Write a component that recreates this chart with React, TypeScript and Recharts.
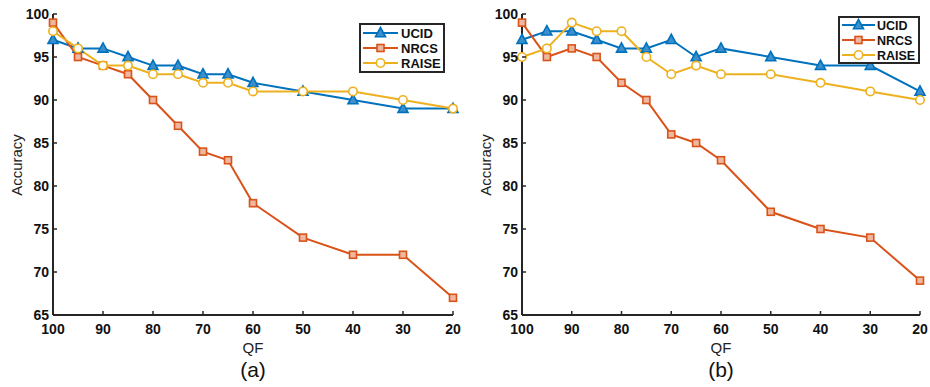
import React from "react";
import { LineChart, Line, XAxis, YAxis, Legend } from "recharts";

const qf = [100, 95, 90, 85, 80, 75, 70, 65, 60, 50, 40, 30, 20];

const ucidA = [97, 96, 96, 95, 94, 94, 93, 93, 92, 91, 90, 89, 89];
const nrcsA = [99, 95, 94, 93, 90, 87, 84, 83, 78, 74, 72, 72, 67];
const raiseA = [98, 96, 94, 94, 93, 93, 92, 92, 91, 91, 91, 90, 89];

const ucidB = [97, 98, 98, 97, 96, 96, 97, 95, 96, 95, 94, 94, 91];
const nrcsB = [99, 95, 96, 95, 92, 90, 86, 85, 83, 77, 75, 74, 69];
const raiseB = [95, 96, 99, 98, 98, 95, 93, 94, 93, 93, 92, 91, 90];

const xTicks = [100, 90, 80, 70, 60, 50, 40, 30, 20];
const yTicks = [65, 70, 75, 80, 85, 90, 95, 100];

const BLUE = "#0072BD";
const ORANGE = "#D95319";
const YELLOW = "#EDB120";
const AXIS = "#262626";
const FONT = "'Liberation Sans', Arial, sans-serif";

function buildRows(u: number[], n: number[], r: number[]) {
  return qf.map((q, i) => ({ qf: q, UCID: u[i], NRCS: n[i], RAISE: r[i] }));
}

function Marker({ kind, cx, cy }: { kind: string; cx: number; cy: number }) {
  if (kind === "tri") {
    const s = 5;
    return (
      <polygon
        points={`${cx},${cy - s - 0.5} ${cx - s},${cy + s * 0.75} ${cx + s},${cy + s * 0.75}`}
        fill="#3d8fcc"
        stroke={BLUE}
        strokeWidth={1.6}
      />
    );
  }
  if (kind === "sq") {
    return (
      <rect x={cx - 3.5} y={cy - 3.5} width={7} height={7} fill="#f0b7a0" stroke={ORANGE} strokeWidth={1.6} />
    );
  }
  return <circle cx={cx} cy={cy} r={4.2} fill="#fff" stroke={YELLOW} strokeWidth={1.6} />;
}

const dotFor = (kind: string) => (p: any) =>
  <Marker key={`${kind}-${p.index}`} kind={kind} cx={p.cx} cy={p.cy} />;

const BottomTick = (p: any) => (
  <g>
    <line x1={p.x} x2={p.x} y1={p.y} y2={p.y - 4} stroke={AXIS} strokeWidth={1.5} />
    <text x={p.x} y={p.y + 19} textAnchor="middle" fontFamily={FONT} fontWeight="bold" fontSize={14} fill="#111">
      {p.payload.value}
    </text>
  </g>
);

const TopTick = (p: any) => (
  <line x1={p.x} x2={p.x} y1={p.y} y2={p.y + 4} stroke={AXIS} strokeWidth={1.5} />
);

const LeftTick = (p: any) => (
  <g>
    <line x1={p.x} x2={p.x + 4} y1={p.y} y2={p.y} stroke={AXIS} strokeWidth={1.5} />
    <text x={p.x - 4} y={p.y + 5} textAnchor="end" fontFamily={FONT} fontWeight="bold" fontSize={14} fill="#111">
      {p.payload.value}
    </text>
  </g>
);

const RightTick = (p: any) => (
  <line x1={p.x} x2={p.x - 4} y1={p.y} y2={p.y} stroke={AXIS} strokeWidth={1.5} />
);

const series = [
  { key: "UCID", color: BLUE, kind: "tri" },
  { key: "NRCS", color: ORANGE, kind: "sq" },
  { key: "RAISE", color: YELLOW, kind: "circ" },
];

function LegendBox({ w, h, rows, lineEnd, textX, fs }: { w: number; h: number; rows: number[]; lineEnd: number; textX: number; fs: number }) {
  return (
    <svg width={w} height={h} style={{ display: "block" }}>
      <rect x={1} y={1} width={w - 2} height={h - 2} fill="#fff" stroke={AXIS} strokeWidth={2} />
      {series.map((s, i) => (
        <g key={s.key}>
          <line x1={4} x2={lineEnd} y1={rows[i]} y2={rows[i]} stroke={s.color} strokeWidth={2} />
          <Marker kind={s.kind} cx={(4 + lineEnd) / 2} cy={rows[i]} />
          <text x={textX} y={rows[i] + 5} fontFamily={FONT} fontWeight="bold" fontSize={fs} fill="#111">
            {s.key}
          </text>
        </g>
      ))}
    </svg>
  );
}

type PanelProps = {
  data: any[];
  width: number;
  yWidth: number;
  right: number;
  caption: string;
  legend: { left: number; top: number; w: number; h: number; rows: number[]; lineEnd: number; textX: number; fs: number };
};

function Panel({ data, width, yWidth, right, caption, legend }: PanelProps) {
  return (
    <LineChart width={width} height={387} data={data} margin={{ top: 14, right, bottom: 0, left: 0 }}>
      <XAxis
        dataKey="qf"
        type="number"
        domain={[20, 100]}
        reversed
        ticks={xTicks}
        interval={0}
        height={72}
        tickSize={0}
        tickMargin={0}
        tickLine={false}
        tick={BottomTick}
        axisLine={{ stroke: AXIS, strokeWidth: 2 }}
        label={{
          content: (p: any) => {
            const cx = p.viewBox.x + p.viewBox.width / 2;
            return (
              <g>
                <text x={cx} y={353} textAnchor="middle" fontFamily={FONT} fontSize={15} fill="#222">QF</text>
                <text x={cx} y={377} textAnchor="middle" fontFamily={FONT} fontSize={21} fill="#111">{caption}</text>
              </g>
            );
          },
        }}
      />
      <XAxis
        xAxisId="top"
        dataKey="qf"
        type="number"
        domain={[20, 100]}
        reversed
        ticks={xTicks}
        orientation="top"
        height={0}
        tickSize={0}
        tickMargin={0}
        tickLine={false}
        tick={TopTick}
        axisLine={{ stroke: AXIS, strokeWidth: 2 }}
      />
      <YAxis
        domain={[65, 100]}
        ticks={yTicks}
        interval={0}
        width={yWidth}
        tickSize={0}
        tickMargin={0}
        tickLine={false}
        tick={LeftTick}
        axisLine={{ stroke: AXIS, strokeWidth: 2 }}
        label={{
          content: () => (
            <text x={yWidth - 37} y={165} transform={`rotate(-90 ${yWidth - 37} 165)`} textAnchor="middle" dominantBaseline="central" fontFamily={FONT} fontSize={15} fill="#222">
              Accuracy
            </text>
          ),
        }}
      />
      <YAxis
        yAxisId="right"
        orientation="right"
        domain={[65, 100]}
        ticks={yTicks}
        width={0}
        tickSize={0}
        tickMargin={0}
        tickLine={false}
        tick={RightTick}
        axisLine={{ stroke: AXIS, strokeWidth: 2 }}
      />
      {series.map(s => (
        <Line
          key={s.key}
          dataKey={s.key}
          stroke={s.color}
          strokeWidth={2}
          dot={dotFor(s.kind)}
          activeDot={false}
          isAnimationActive={false}
        />
      ))}
      <Legend
        layout="horizontal"
        verticalAlign="middle"
        align="center"
        wrapperStyle={{ left: legend.left, top: legend.top, width: legend.w, height: legend.h }}
        content={() => <LegendBox {...legend} />}
      />
    </LineChart>
  );
}

export default function App() {
  return (
    <div style={{ position: "absolute", left: 0, top: 0, width: 930, height: 387, background: "#fff" }}>
      <div style={{ position: "absolute", left: 0, top: 0 }}>
        <Panel
          data={buildRows(ucidA, nrcsA, raiseA)}
          width={470}
          yWidth={53}
          right={17}
          caption="(a)"
          legend={{ left: 359, top: 23, w: 86, h: 50, rows: [10, 25, 40], lineEnd: 39, textX: 42, fs: 13 }}
        />
      </div>
      <div style={{ position: "absolute", left: 470, top: 0 }}>
        <Panel
          data={buildRows(ucidB, nrcsB, raiseB)}
          width={460}
          yWidth={52}
          right={10}
          caption="(b)"
          legend={{ left: 368, top: 16, w: 82, h: 48, rows: [9, 24, 39], lineEnd: 37, textX: 39, fs: 12.5 }}
        />
      </div>
    </div>
  );
}
